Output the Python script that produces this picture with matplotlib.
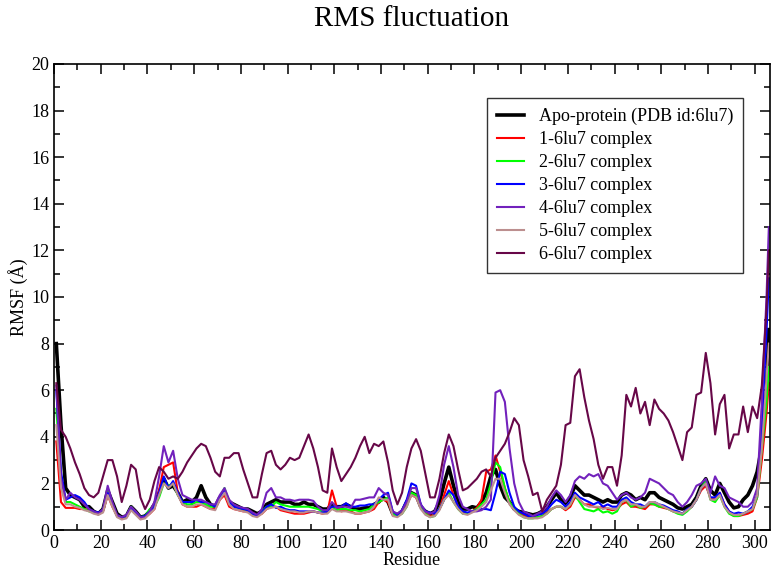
import matplotlib
matplotlib.use("Agg")
import matplotlib.pyplot as plt
from matplotlib.ticker import MultipleLocator

plt.rcParams['font.family'] = ['Liberation Serif', 'DejaVu Serif']

# residues sampled every 2 (plus the last one)
residue = list(range(1, 306, 2)) + [306]

apo = [8.0, 4.5, 1.8, 1.5, 1.4, 1.3, 1.0, 1.0, 0.8, 0.7,
       0.9, 1.7, 1.2, 0.7, 0.55, 0.6, 1.0, 0.8, 0.55, 0.6,
       0.8, 1.1, 1.6, 2.2, 1.8, 1.9, 1.6, 1.2, 1.3, 1.2,
       1.4, 1.9, 1.4, 1.1, 1.0, 1.4, 1.6, 1.2, 1.1, 1.0,
       0.9, 0.9, 0.8, 0.7, 0.8, 1.1, 1.2, 1.3, 1.2, 1.2,
       1.2, 1.1, 1.1, 1.2, 1.1, 1.1, 1.0, 0.9, 0.9, 1.1,
       1.0, 1.0, 1.1, 1.0, 0.9, 0.9, 0.95, 0.95, 1.1, 1.2,
       1.4, 1.2, 0.7, 0.65, 0.8, 1.2, 1.6, 1.5, 1.0, 0.8,
       0.7, 0.8, 1.2, 2.0, 2.7, 1.9, 1.2, 0.9, 0.9, 1.0,
       0.95, 1.2, 1.6, 2.3, 2.6, 1.9, 1.4, 1.2, 0.9, 0.8,
       0.75, 0.7, 0.65, 0.7, 0.8, 1.0, 1.3, 1.6, 1.3, 1.15,
       1.4, 1.9, 1.7, 1.5, 1.5, 1.4, 1.3, 1.2, 1.3, 1.2,
       1.2, 1.5, 1.6, 1.5, 1.3, 1.4, 1.3, 1.6, 1.6, 1.4,
       1.3, 1.2, 1.1, 0.95, 0.9, 1.0, 1.1, 1.4, 1.9, 2.2,
       1.7, 1.5, 2.0, 1.6, 1.2, 0.95, 1.0, 1.3, 1.5, 1.9,
       2.5, 3.6, 6.0, 8.6]

c1 = [3.8, 1.2, 0.95, 0.95, 0.95, 0.9, 0.9, 0.85, 0.75, 0.7,
      0.8, 1.5, 1.0, 0.6, 0.5, 0.55, 0.9, 0.7, 0.5, 0.55,
      0.7, 0.9, 1.7, 2.7, 2.8, 2.9, 1.6, 1.1, 1.0, 1.0,
      1.0, 1.1, 1.0, 0.9, 0.9, 1.3, 1.5, 1.0, 0.9, 0.85,
      0.8, 0.8, 0.7, 0.6, 0.7, 0.9, 1.0, 1.0, 0.85, 0.8,
      0.75, 0.7, 0.7, 0.7, 0.75, 0.8, 0.75, 0.7, 0.75, 1.7,
      1.0, 0.8, 0.85, 0.8, 0.7, 0.7, 0.75, 0.8, 0.9, 1.2,
      1.3, 1.2, 0.65, 0.6, 0.75, 1.1, 1.5, 1.4, 1.0, 0.75,
      0.6, 0.65, 0.9, 1.5, 2.1, 1.5, 1.0, 0.75, 0.7, 0.8,
      0.95, 1.3, 2.5, 2.6, 3.2, 2.5, 1.8, 1.2, 0.9, 0.75,
      0.65, 0.55, 0.55, 0.55, 0.6, 0.75, 0.9, 1.0, 1.0, 0.85,
      1.0, 1.4, 1.3, 1.1, 1.1, 1.0, 0.95, 1.0, 0.9, 0.85,
      0.9, 1.1, 1.2, 1.0, 1.0, 0.95, 0.9, 1.1, 1.1, 1.0,
      0.95, 0.9, 0.8, 0.75, 0.7, 0.85, 1.0, 1.3, 1.7, 1.9,
      1.4, 1.3, 1.6, 1.1, 0.8, 0.6, 0.6, 0.65, 0.7, 0.8,
      1.4, 3.0, 5.0, 6.3]

c2 = [5.2, 2.3, 1.2, 1.2, 1.1, 1.0, 0.9, 0.8, 0.75, 0.7,
      0.85, 1.7, 1.1, 0.6, 0.55, 0.6, 1.0, 0.75, 0.55, 0.6,
      0.9, 1.0, 1.4, 2.0, 1.9, 2.0, 1.5, 1.2, 1.1, 1.1,
      1.2, 1.2, 1.1, 1.0, 1.0, 1.4, 1.8, 1.2, 1.0, 0.95,
      0.9, 0.85, 0.7, 0.6, 0.8, 1.0, 1.0, 1.2, 1.1, 1.05,
      1.0, 1.0, 1.0, 1.0, 1.0, 0.95, 0.9, 0.8, 0.8, 1.0,
      0.85, 0.9, 0.9, 0.85, 0.85, 0.8, 0.85, 0.9, 1.1, 1.2,
      1.3, 1.4, 0.7, 0.6, 0.7, 1.0, 1.6, 1.5, 1.0, 0.7,
      0.55, 0.6, 0.9, 1.3, 1.6, 1.2, 0.9, 0.7, 0.7, 0.8,
      0.9, 1.1, 1.3, 2.0, 2.9, 2.7, 1.8, 1.2, 0.9, 0.7,
      0.55, 0.5, 0.5, 0.55, 0.6, 0.7, 0.9, 1.0, 1.0, 0.9,
      1.1, 1.5, 1.2, 0.9, 0.85, 0.8, 0.9, 0.75, 0.8, 0.7,
      0.8, 1.2, 1.3, 1.0, 1.1, 0.95, 1.0, 1.15, 1.1, 1.0,
      1.0, 0.9, 0.8, 0.7, 0.65, 0.8, 1.0, 1.3, 1.8, 2.1,
      1.3, 1.2, 1.5, 1.0, 0.7, 0.6, 0.6, 0.7, 0.8, 0.9,
      1.4, 3.5, 5.5, 7.0]

c3 = [6.0, 2.5, 1.3, 1.4, 1.5, 1.4, 1.2, 0.9, 0.8, 0.75,
      0.85, 1.6, 1.1, 0.6, 0.55, 0.6, 0.95, 0.75, 0.55, 0.6,
      0.8, 1.0, 1.6, 2.3, 1.8, 2.1, 1.6, 1.2, 1.2, 1.2,
      1.3, 1.2, 1.2, 1.1, 1.0, 1.4, 1.7, 1.2, 1.0, 0.95,
      0.9, 0.85, 0.7, 0.6, 0.75, 1.0, 1.1, 0.95, 1.0, 0.9,
      0.85, 0.85, 0.8, 0.8, 0.8, 0.8, 0.75, 0.75, 0.8, 1.0,
      1.0, 1.0, 1.15, 1.0, 1.0, 1.05, 1.05, 1.1, 1.1, 1.3,
      1.5, 1.6, 0.8, 0.65, 0.85, 1.3, 2.0, 1.9, 1.1, 0.8,
      0.75, 0.7, 0.9, 1.3, 1.7, 1.5, 1.0, 0.8, 0.75, 0.8,
      0.85, 0.9, 0.9, 0.85, 1.6, 2.5, 2.4, 1.6, 1.0, 0.8,
      0.7, 0.6, 0.6, 0.65, 0.7, 0.85, 1.1, 1.3, 1.2, 1.0,
      1.2, 1.6, 1.4, 1.3, 1.2, 1.1, 1.2, 1.0, 1.1, 1.0,
      1.0, 1.3, 1.4, 1.2, 1.1, 1.1, 1.0, 1.2, 1.2, 1.1,
      1.05, 0.95, 0.85, 0.8, 0.7, 0.9, 1.0, 1.3, 1.8, 2.0,
      1.4, 1.4, 1.6, 1.1, 0.8, 0.7, 0.75, 0.7, 0.8, 1.0,
      1.5, 4.5, 8.5, 10.8]

c4 = [6.2, 2.2, 1.3, 1.6, 1.4, 1.3, 1.1, 0.9, 0.8, 0.7,
      0.9, 1.9, 1.2, 0.65, 0.55, 0.65, 1.0, 0.8, 0.55, 0.55,
      0.8, 1.2, 2.3, 3.6, 2.9, 3.4, 2.2, 1.5, 1.4, 1.3,
      1.3, 1.3, 1.2, 1.1, 1.1, 1.5, 1.8, 1.3, 1.1, 1.0,
      0.95, 0.9, 0.75, 0.65, 0.9, 1.6, 1.8, 1.4, 1.4, 1.3,
      1.3, 1.25, 1.3, 1.3, 1.3, 1.25, 1.0, 0.85, 0.85, 1.2,
      0.95, 1.0, 1.0, 0.95, 1.3, 1.3, 1.35, 1.4, 1.4, 1.8,
      1.6, 1.5, 0.8, 0.7, 0.85, 1.2, 1.8, 1.8, 1.1, 0.8,
      0.7, 0.8, 1.5, 2.8, 3.6, 2.7, 1.5, 1.0, 0.9, 0.8,
      0.8, 0.85, 1.0, 1.3, 5.9, 6.0, 5.5, 3.5, 2.0, 1.2,
      0.8, 0.7, 0.6, 0.7, 0.8, 1.0, 1.4, 1.7, 1.5, 1.2,
      1.5, 2.1, 2.3, 2.2, 2.4, 2.3, 2.4, 2.0, 1.9, 1.6,
      1.3, 1.5, 1.6, 1.4, 1.3, 1.4, 1.6, 2.2, 2.1, 2.0,
      1.8, 1.6, 1.5, 1.2, 1.0, 1.2, 1.5, 1.9, 2.0, 2.2,
      1.6, 2.3, 1.9, 1.8, 1.4, 1.3, 1.2, 1.0, 1.0, 1.2,
      1.8, 5.5, 10.0, 13.0]

c5 = [4.5, 1.8, 1.1, 1.1, 1.0, 0.95, 0.85, 0.8, 0.7, 0.65,
      0.75, 1.5, 1.0, 0.55, 0.45, 0.5, 0.85, 0.65, 0.45, 0.5,
      0.7, 0.9, 1.5, 2.0, 1.8, 2.0, 1.5, 1.1, 1.0, 1.0,
      1.1, 1.1, 1.0, 0.9, 0.85, 1.3, 1.6, 1.1, 0.9, 0.85,
      0.8, 0.75, 0.6, 0.55, 0.7, 0.9, 0.95, 1.0, 0.9, 0.85,
      0.8, 0.8, 0.75, 0.75, 0.8, 0.8, 0.75, 0.7, 0.7, 0.9,
      0.8, 0.8, 0.8, 0.75, 0.7, 0.7, 0.75, 0.8, 1.0, 1.4,
      1.3, 1.3, 0.6, 0.55, 0.7, 1.0, 1.5, 1.4, 0.9, 0.65,
      0.55, 0.6, 0.85, 1.3, 1.5, 1.2, 0.9, 0.7, 0.65, 0.75,
      0.85, 1.0, 1.2, 1.7, 2.2, 2.2, 1.6, 1.1, 0.85, 0.65,
      0.55, 0.5, 0.5, 0.5, 0.55, 0.7, 0.9, 1.0, 1.0, 0.9,
      1.1, 1.5, 1.3, 1.1, 1.0, 1.0, 1.0, 0.9, 0.95, 0.9,
      0.9, 1.2, 1.3, 1.1, 1.1, 1.0, 1.0, 1.2, 1.2, 1.1,
      1.0, 0.9, 0.8, 0.75, 0.7, 0.85, 1.0, 1.3, 1.8, 2.0,
      1.3, 1.3, 1.5, 1.0, 0.75, 0.65, 0.65, 0.7, 0.8, 0.9,
      1.5, 3.5, 6.5, 8.0]

c6 = [6.3, 4.3, 4.0, 3.5, 2.9, 2.4, 1.8, 1.5, 1.4, 1.6,
      2.3, 3.0, 3.0, 2.3, 1.2, 1.9, 2.8, 2.6, 1.4, 0.9,
      1.3, 2.1, 2.7, 2.5, 2.2, 2.3, 2.2, 2.5, 2.9, 3.2,
      3.5, 3.7, 3.6, 3.1, 2.5, 2.3, 3.1, 3.1, 3.3, 3.3,
      2.6, 2.0, 1.4, 1.4, 2.4, 3.3, 3.4, 2.8, 2.6, 2.8,
      3.1, 3.0, 3.1, 3.6, 4.1, 3.5, 2.7, 1.7, 1.6, 3.5,
      2.7, 2.1, 2.4, 2.7, 3.1, 3.6, 4.0, 3.3, 3.7, 3.6,
      3.8, 2.9, 1.7, 1.1, 1.6, 2.7, 3.5, 3.9, 3.4, 2.4,
      1.4, 1.4, 2.2, 3.3, 4.1, 3.6, 2.6, 1.7, 1.8, 2.0,
      2.2, 2.5, 2.6, 2.3, 3.1, 3.4, 3.7, 4.2, 4.8, 4.5,
      3.0, 2.3, 1.5, 1.6, 0.8, 1.3, 1.6, 1.9, 2.8, 4.5,
      4.6, 6.6, 6.9, 5.7, 4.7, 3.9, 2.8, 2.2, 2.7, 2.7,
      1.9, 3.2, 5.8, 5.3, 6.1, 5.0, 5.5, 4.5, 5.6, 5.2,
      5.0, 4.7, 4.2, 3.6, 3.0, 4.2, 4.4, 5.8, 5.9, 7.6,
      6.3, 4.1, 5.4, 5.8, 3.5, 4.1, 4.1, 5.3, 4.2, 5.3,
      4.8, 6.2, 9.5, 12.0]

labels = ['Apo-protein (PDB id:6lu7)', '1-6lu7 complex', '2-6lu7 complex',
          '3-6lu7 complex', '4-6lu7 complex', '5-6lu7 complex', '6-6lu7 complex']
colors = ['#000000', '#ff0000', '#00ff00', '#0000ff', '#7221bc', '#bc8f8f', '#670748']
widths = [2.6, 1.5, 1.5, 1.5, 1.5, 1.5, 1.5]

fig = plt.figure(figsize=(7.8, 5.72), dpi=100)
ax = fig.add_axes([0.0692, 0.0734, 0.918, 0.8148])

for y, lab, col, lw in zip([apo, c1, c2, c3, c4, c5, c6], labels, colors, widths):
    ax.plot(residue, y, color=col, lw=lw, label=lab)

ax.set_xlim(0, 306.5)
ax.set_ylim(0, 20)
ax.xaxis.set_major_locator(MultipleLocator(20))
ax.xaxis.set_minor_locator(MultipleLocator(10))
ax.yaxis.set_major_locator(MultipleLocator(2))
ax.yaxis.set_minor_locator(MultipleLocator(1))
ax.tick_params(which='both', direction='in', top=True, right=True, labelsize=13)
ax.tick_params(which='major', length=7, width=1.1)
ax.tick_params(which='minor', length=4, width=1.1)
for s in ax.spines.values():
    s.set_linewidth(1.2)

ax.set_xlabel('Residue', fontsize=13, labelpad=0)
ax.set_ylabel('RMSF (Å)', fontsize=13, labelpad=2)
ax.set_title('RMS fluctuation', fontsize=21, pad=27)

leg = ax.legend(loc='upper left', bbox_to_anchor=(0.605, 0.927), fontsize=13,
                frameon=True, fancybox=False, edgecolor='#333333', framealpha=1,
                handlelength=1.5, handletextpad=0.8, labelspacing=0.33,
                borderpad=0.55, borderaxespad=0)
leg.get_frame().set_linewidth(1.0)

fig.savefig('out.png', dpi=100)
